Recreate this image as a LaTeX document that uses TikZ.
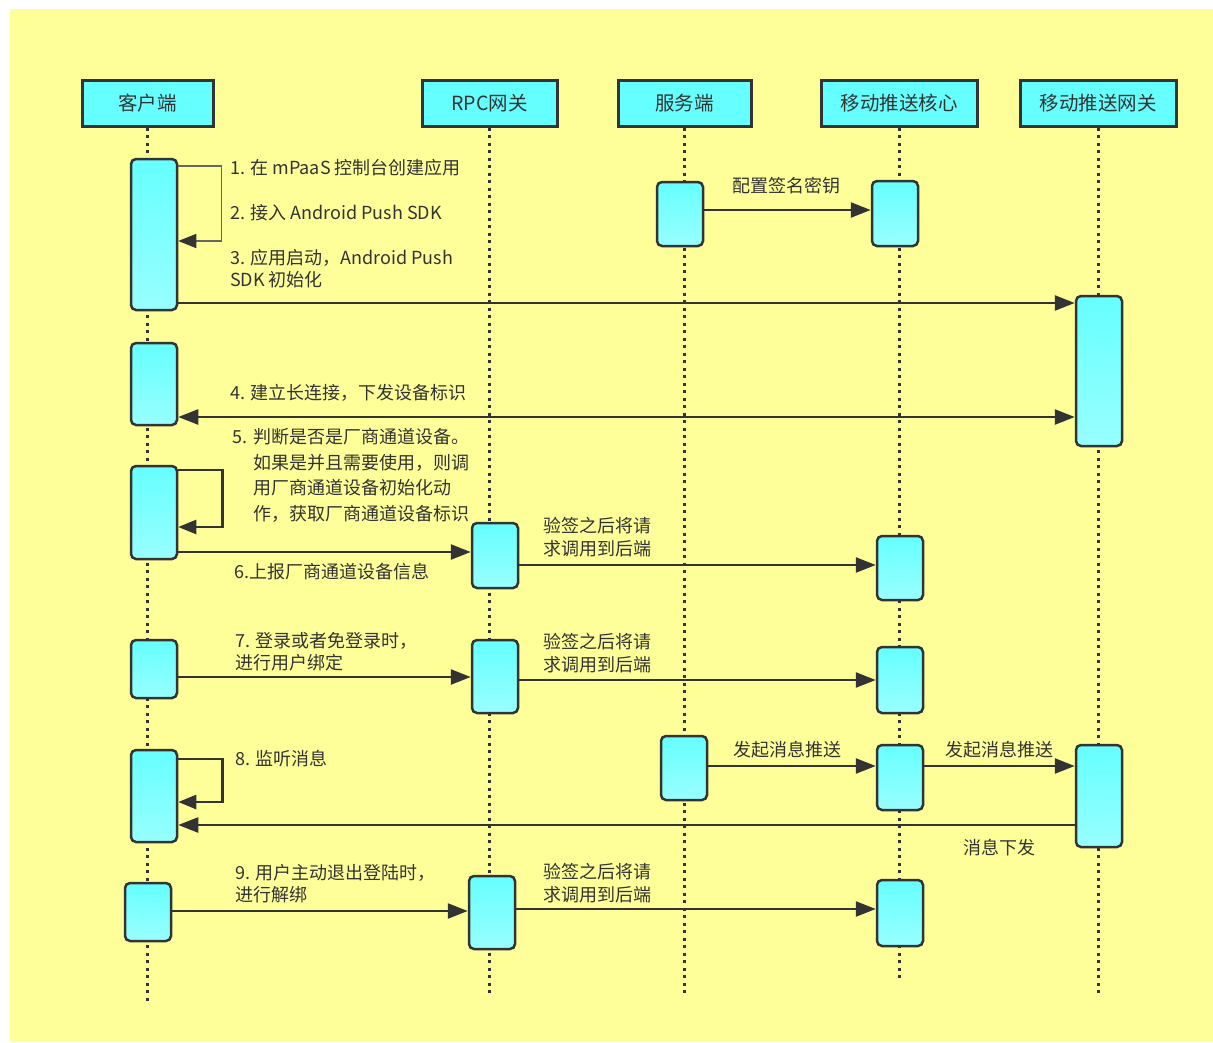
\documentclass[tikz,border=0pt]{standalone}
\usepackage{fontspec}
\setmainfont{Noto Sans CJK SC}
\usepackage{tikz}
\usetikzlibrary{arrows.meta}
\definecolor{fondo}{HTML}{FFFF99}
\definecolor{cian}{HTML}{66FFFF}
\definecolor{cianclaro}{HTML}{99FFFF}
\definecolor{oscuro}{HTML}{333333}
\definecolor{gris}{HTML}{666666}
\tikzstyle{participante} = [draw=oscuro, fill=cian, line width=3pt, rectangle, minimum height=46pt, inner sep=0pt, text=oscuro, font=\fontsize{19.5}{22}\selectfont]
\tikzstyle{activacion} = [draw=oscuro, top color=cian, bottom color=cianclaro, line width=2.5pt, rectangle, rounded corners=5pt, minimum width=46pt, inner sep=0pt]
\tikzstyle{vida} = [draw=oscuro, line width=3pt, dash pattern=on 3pt off 4.5pt]
\tikzstyle{mensaje} = [draw=oscuro, line width=2.5pt, -{Triangle[length=20pt,width=15pt]}]
\tikzstyle{bucle} = [draw=oscuro, line width=2.5pt, -{Triangle[length=18pt,width=14pt,color=oscuro]}]
\tikzstyle{etiqueta} = [text=oscuro, inner sep=0pt, font=\fontsize{18}{22}\selectfont]

\begin{document}
\begin{tikzpicture}[x=1pt, y=-1pt]
	\useasboundingbox (0,0) rectangle (1213,1042);
	\fill[fondo] (10,9) rectangle (1213,1042);

	\node[participante, minimum width=131pt](cliente) at (147.5,103) {客户端};
	\node[participante, minimum width=135pt](rpc) at (489.5,103) {RPC网关};
	\node[participante, minimum width=133pt](servidor) at (684.5,103) {服务端};
	\node[participante, minimum width=156pt](nucleo) at (899,103) {移动推送核心};
	\node[participante, minimum width=156pt](pasarela) at (1098,103) {移动推送网关};

	\draw[vida] (cliente.south) -- ++(0,874);
	\draw[vida] (rpc.south) -- ++(0,869);
	\draw[vida] (servidor.south) -- ++(0,869);
	\draw[vida] (nucleo.south) -- ++(0,850);
	\draw[vida] (pasarela.south) -- ++(0,868);

	\node[activacion, minimum height=151pt](a1) at (154,234.5) {};
	\node[activacion, minimum height=82pt](a2) at (154,384) {};
	\node[activacion, minimum height=93pt](a3) at (154,512.5) {};
	\node[activacion, minimum height=58pt](a4) at (154,669) {};
	\node[activacion, minimum height=92pt](a5) at (154,796) {};
	\node[activacion, minimum height=58pt](a6) at (148,912) {};
	\node[activacion, minimum height=65pt](r1) at (495,555.5) {};
	\node[activacion, minimum height=73pt](r2) at (495,676.5) {};
	\node[activacion, minimum height=73pt](r3) at (492,912.5) {};
	\node[activacion, minimum height=64pt](s1) at (680,214) {};
	\node[activacion, minimum height=64pt](s2) at (684,768) {};
	\node[activacion, minimum height=65pt](c1) at (895,213.5) {};
	\node[activacion, minimum height=64pt](c2) at (900,568) {};
	\node[activacion, minimum height=66pt](c3) at (900,680) {};
	\node[activacion, minimum height=65pt](c4) at (900,777.5) {};
	\node[activacion, minimum height=66pt](c5) at (900,913) {};
	\node[activacion, minimum height=150pt](g1) at (1099,371) {};
	\node[activacion, minimum height=102pt](g2) at (1099,796) {};

	\draw[bucle, draw=gris, line width=1.5pt] (a1.east |- 0,166) -- ++(43,0) |- (a1.east |- 0,241);
	\draw[mensaje] (a1.east |- 0,303) -- (g1.west |- 0,303);
	\draw[mensaje] (s1.east |- 0,210) -- (c1.west |- 0,210);
	\draw[mensaje, {Triangle[length=20pt,width=15pt]}-{Triangle[length=20pt,width=15pt]}] (a2.east |- 0,417) -- (g1.west |- 0,417);
	\draw[bucle] (a3.east |- 0,470) -- ++(44,0) |- (a3.east |- 0,527);
	\draw[mensaje] (a3.east |- 0,552) -- (r1.west |- 0,552);
	\draw[mensaje] (r1.east |- 0,565) -- (c2.west |- 0,565);
	\draw[mensaje] (a4.east |- 0,677) -- (r2.west |- 0,677);
	\draw[mensaje] (r2.east |- 0,680) -- (c3.west |- 0,680);
	\draw[bucle] (a5.east |- 0,759) -- ++(44,0) |- (a5.east |- 0,802);
	\draw[mensaje] (s2.east |- 0,766) -- (c4.west |- 0,766);
	\draw[mensaje] (c4.east |- 0,766) -- (g2.west |- 0,766);
	\draw[mensaje] (g2.west |- 0,825) -- (a5.east |- 0,825);
	\draw[mensaje] (a6.east |- 0,911) -- (r3.west |- 0,911);
	\draw[mensaje] (r3.east |- 0,909) -- (c5.west |- 0,909);

	\node[etiqueta, anchor=west](e1) at (230,168) {1. 在 mPaaS 控制台创建应用};
	\node[etiqueta, anchor=west](e2) at (230,213) {2. 接入 Android Push SDK};
	\node[etiqueta, anchor=west, align=left](e3) at (230,269) {3. 应用启动，Android Push\\SDK 初始化};
	\node[etiqueta](ef) at (786,186) {配置签名密钥};
	\node[etiqueta, anchor=west](e4) at (230,393) {4. 建立长连接，下发设备标识};
	\node[etiqueta, anchor=west, font=\fontsize{18}{25.7}\selectfont](e5) at (232,477) {\begin{tabular}{@{}p{21pt}@{}l@{}}5. & 判断是否是厂商通道设备。\\ & 如果是并且需要使用，则调\\ & 用厂商通道设备初始化动\\ & 作，获取厂商通道设备标识\end{tabular}};
	\node[etiqueta, anchor=west](e6) at (234,572) {6.上报厂商通道设备信息};
	\node[etiqueta, align=center, font=\fontsize{18}{23}\selectfont](v1) at (597,537.5) {验签之后将请\\求调用到后端};
	\node[etiqueta, anchor=west, align=left](e7) at (235,652) {7. 登录或者免登录时，\\进行用户绑定};
	\node[etiqueta, align=center, font=\fontsize{18}{23}\selectfont](v2) at (597,653) {验签之后将请\\求调用到后端};
	\node[etiqueta, anchor=west](e8) at (235,759) {8. 监听消息};
	\node[etiqueta](p1) at (787,750) {发起消息推送};
	\node[etiqueta](p2) at (999,750) {发起消息推送};
	\node[etiqueta](ed) at (999,848) {消息下发};
	\node[etiqueta, anchor=west, align=left](e9) at (235,884) {9. 用户主动退出登陆时，\\进行解绑};
	\node[etiqueta, align=center, font=\fontsize{18}{23}\selectfont](v3) at (597,883.5) {验签之后将请\\求调用到后端};
\end{tikzpicture}
\end{document}
